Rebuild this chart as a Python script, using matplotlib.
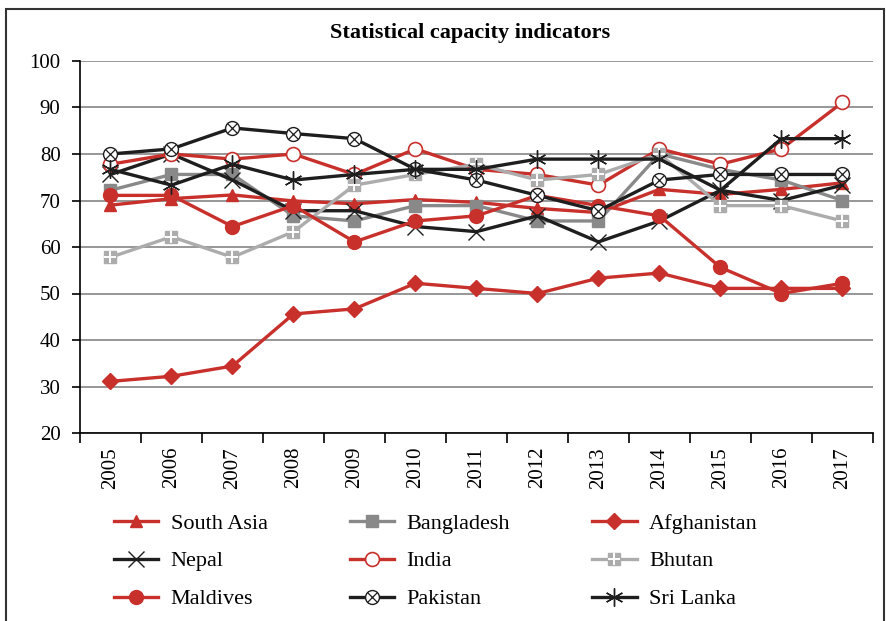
import numpy as np
import matplotlib.pyplot as plt
from matplotlib.patches import Rectangle
from matplotlib.legend_handler import HandlerTuple

plt.rcParams['font.family'] = ['Liberation Serif', 'DejaVu Serif']

# data
years = [str(y) for y in range(2005, 2018)]
south_asia = [69.0, 70.4, 71.2, 69.9, 69.3, 70.2, 69.6, 68.3, 67.4, 72.4, 71.3, 72.4, 73.8]
bangladesh = [72.2, 75.6, 75.6, 66.7, 65.6, 68.9, 68.9, 65.6, 65.6, 80.0, 76.7, 74.4, 70.0]
afghanistan = [31.1, 32.2, 34.4, 45.6, 46.7, 52.2, 51.1, 50.0, 53.3, 54.4, 51.1, 51.1, 51.1]
nepal = [75.6, 80.0, 74.4, 67.8, 67.8, 64.4, 63.3, 66.7, 61.1, 65.6, 72.2, 70.0, 73.3]
india = [77.8, 80.0, 78.9, 80.0, 75.6, 81.1, 76.7, 75.6, 73.3, 81.1, 77.8, 81.1, 91.1]
bhutan = [57.8, 62.2, 57.8, 63.3, 73.3, 75.6, 77.8, 74.4, 75.6, 80.0, 68.9, 68.9, 65.6]
maldives = [71.1, 71.1, 64.4, 68.9, 61.1, 65.6, 66.7, 71.1, 68.9, 66.7, 55.6, 50.0, 52.2]
pakistan = [80.0, 81.1, 85.6, 84.4, 83.3, 76.7, 74.4, 71.1, 67.8, 74.4, 75.6, 75.6, 75.6]
sri_lanka = [76.7, 73.3, 77.8, 74.4, 75.6, 76.7, 76.7, 78.9, 78.9, 78.9, 72.2, 83.3, 83.3]

red = '#c8302c'
black = '#1e1e1e'
dgray = '#898989'
lgray = '#acacac'
lw = 2.4

fig = plt.figure(figsize=(8.87, 6.21), dpi=100)
ax = fig.add_axes([80/887, 1-433/621, 793/887, 372/621])
x = np.arange(len(years))

h_sa, = ax.plot(x, south_asia, color=red, lw=lw, marker='^', ms=9)
h_bd, = ax.plot(x, bangladesh, color=dgray, lw=lw, marker='s', ms=9)
h_af, = ax.plot(x, afghanistan, color=red, lw=lw, marker='D', ms=8.5)
h_np, = ax.plot(x, nepal, color=black, lw=lw, marker='x', ms=11, mew=1.0)
h_in, = ax.plot(x, india, color=red, lw=lw, marker='o', ms=10, mfc='white', mec=red, mew=1.2)
h_bt1, = ax.plot(x, bhutan, color=lgray, lw=lw, marker='s', ms=9)
h_bt2, = ax.plot(x, bhutan, ls='none', marker='+', ms=9, mec='white', mew=1.4)
h_md, = ax.plot(x, maldives, color=red, lw=lw, marker='o', ms=10)
h_pk1, = ax.plot(x, pakistan, color=black, lw=lw, marker='o', ms=10, mfc='white', mec=black, mew=1.0)
h_pk2, = ax.plot(x, pakistan, ls='none', marker='x', ms=7, mec=black, mew=0.9)
h_sl, = ax.plot(x, sri_lanka, color=black, lw=lw, marker=(6, 2, 0), ms=13, mec=black, mew=1.0)

ax.set_ylim(20, 100)
ax.set_xlim(-0.5, len(years) - 0.5)
ax.set_yticks(range(20, 101, 10))
ax.yaxis.grid(True, color='#7a7a7a', lw=1.1)
ax.set_axisbelow(True)
for s in ['top', 'right']:
    ax.spines[s].set_visible(False)
ax.spines['left'].set_linewidth(1.2)
ax.spines['bottom'].set_linewidth(1.2)

ax.set_xticks(np.arange(-0.5, len(years)), [''] * (len(years) + 1))
ax.set_xticks(x, years, minor=True, rotation=90)
ax.tick_params(axis='x', which='major', length=7, width=1.2, direction='out')
ax.tick_params(axis='x', which='minor', length=0, pad=10, labelsize=15)
ax.tick_params(axis='y', length=6, width=1.2, pad=8, labelsize=15)

fig.text(470/887, 1-33/621, 'Statistical capacity indicators', ha='center', va='center',
         fontsize=16, fontweight='bold')

handles = [h_sa, h_np, h_md, h_bd, h_in, (h_pk1, h_pk2), h_af, (h_bt1, h_bt2), h_sl]
labels = ['South Asia', 'Nepal', 'Maldives', 'Bangladesh', 'India', 'Pakistan',
          'Afghanistan', 'Bhutan', 'Sri Lanka']
fig.legend(handles, labels, ncol=3, loc='upper left', bbox_to_anchor=(114/887, 1-513/621),
           frameon=False, fontsize=16, handlelength=2.0, handletextpad=0.55,
           columnspacing=3.7, labelspacing=0.78, borderpad=0, borderaxespad=0,
           handler_map={tuple: HandlerTuple(ndivide=1)})

fig.patches.append(Rectangle((6/887, -0.05), 878/887, 1.05 - 9/621, transform=fig.transFigure,
                             fill=False, lw=1.5, ec='#333333'))

fig.savefig('out.png', dpi=100)
